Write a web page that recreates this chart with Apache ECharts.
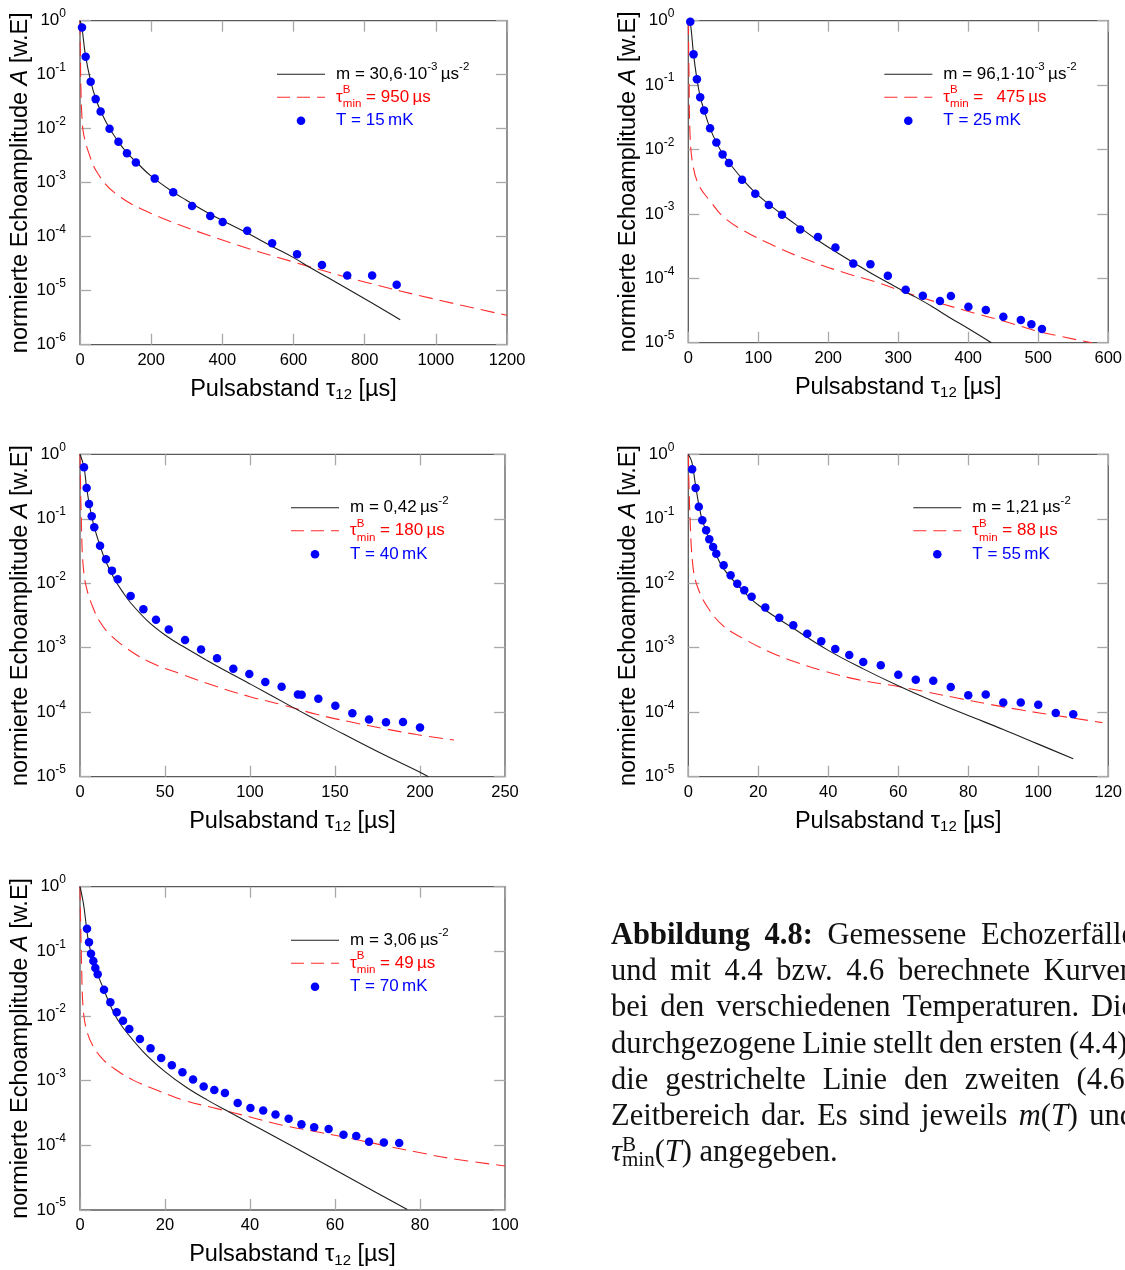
<!DOCTYPE html>
<html lang="de">
<head>
<meta charset="utf-8">
<title>Echozerfälle</title>
<script src="https://cdn.jsdelivr.net/npm/echarts@6.0.0/dist/echarts.min.js"></script>
<style>
  html, body { margin: 0; padding: 0; background: #fff; }
  #chart { width: 1125px; height: 1270px; }
</style>
</head>
<body>
<div id="chart"></div>
<script>
// ---------- T = 15 mK ----------
const tau15 = [5.6, 15.9, 30, 44, 58, 83, 108, 132, 157, 210, 262, 315, 366, 401, 470, 540, 610, 680, 751, 821, 890];
const amp15 = [0.75, 0.215, 0.074, 0.0353, 0.0208, 0.00995, 0.00571, 0.00352, 0.00236, 0.00119, 6.65e-4, 3.72e-4, 2.42e-4, 1.87e-4, 1.29e-4, 7.55e-5, 4.72e-5, 2.99e-5, 1.92e-5, 1.92e-5, 1.29e-5];
const fitTau15 = [0, 5, 15, 30, 45, 60, 80, 100, 130, 160, 200, 260, 300, 350, 400, 470, 540, 600, 650, 700, 800, 900];
const fitAmp15 = [1, 0.78, 0.235, 0.076, 0.0347, 0.02, 0.011, 0.0068, 0.0037, 0.00234, 0.00132, 6.8e-4, 4.7e-4, 3.0e-4, 2.0e-4, 1.17e-4, 6.6e-5, 4.1e-5, 2.6e-5, 1.7e-5, 7.1e-6, 2.9e-6];
const dashTau15 = [0, 1, 2.5, 5, 10, 25, 50, 100, 200, 400, 600, 800, 1000, 1200];
const dashAmp15 = [1, 0.3, 0.06, 0.019, 0.0081, 0.0035, 0.00148, 6.3e-4, 2.7e-4, 8.7e-5, 3.4e-5, 1.45e-5, 6.9e-6, 3.5e-6];

// ---------- T = 25 mK ----------
const tau25 = [2.8, 7.5, 12.3, 17, 22.6, 31.1, 40.1, 49, 58, 76.8, 95.7, 115, 133.9, 159.8, 185.2, 210.2, 235.7, 260.2, 285.1, 310.6, 335.1, 359.6, 375.2, 400.2, 425.1, 450.1, 475.1, 490.2, 505.3];
const amp25 = [0.96, 0.30, 0.123, 0.065, 0.0405, 0.0213, 0.0128, 0.0084, 0.00616, 0.0034, 0.00206, 0.00137, 9.7e-4, 5.75e-4, 4.37e-4, 3.02e-4, 1.69e-4, 1.66e-4, 1.10e-4, 6.65e-5, 5.37e-5, 4.44e-5, 5.31e-5, 3.62e-5, 3.21e-5, 2.53e-5, 2.25e-5, 1.93e-5, 1.63e-5];
const fitTau25 = [0, 2.8, 7.5, 12.3, 17, 23, 31, 40, 50, 60, 77, 96, 115, 134, 160, 185, 210, 236, 260, 285, 310, 325, 350, 375, 400, 433];
const fitAmp25 = [1, 0.93, 0.30, 0.125, 0.066, 0.039, 0.0215, 0.0129, 0.0083, 0.0059, 0.0035, 0.00212, 0.00142, 9.8e-4, 6.1e-4, 3.9e-4, 2.6e-4, 1.75e-4, 1.22e-4, 8.6e-5, 6.1e-5, 5.1e-5, 3.55e-5, 2.4e-5, 1.66e-5, 1.0e-5];
const dashTau25 = [0, 1, 2.4, 7, 16.5, 30.6, 49.5, 77.8, 125, 172, 219, 266, 313, 360, 408, 455, 502, 577];
const dashAmp25 = [1, 0.15, 0.018, 0.0054, 0.0026, 0.00162, 9.1e-4, 5.6e-4, 3.1e-4, 1.9e-4, 1.26e-4, 8.9e-5, 5.9e-5, 4.1e-5, 2.9e-5, 2.1e-5, 1.48e-5, 1.0e-5];

// ---------- T = 40 mK ----------
const tau40 = [2.35, 3.9, 5.3, 6.9, 8.4, 11.8, 15.3, 18.8, 22.2, 29.8, 37.3, 44.7, 52.2, 61.8, 71.2, 80.6, 90.2, 99.6, 109, 118.6, 128.2, 130.4, 140.2, 150.2, 160.2, 170, 180, 190, 200];
const amp40 = [0.63, 0.30, 0.17, 0.109, 0.0738, 0.0383, 0.0235, 0.0157, 0.0115, 0.00634, 0.00394, 0.00272, 0.00191, 0.00132, 9.4e-4, 6.85e-4, 4.73e-4, 3.91e-4, 2.94e-4, 2.49e-4, 1.89e-4, 1.87e-4, 1.62e-4, 1.26e-4, 9.6e-5, 7.7e-5, 6.96e-5, 7.05e-5, 5.8e-5];
const fitTau40 = [0, 2.35, 3.9, 6, 8.4, 11.8, 15, 20, 25, 30, 40, 50, 60, 75, 90, 100, 125, 150, 175, 200, 205];
const fitAmp40 = [1, 0.63, 0.30, 0.141, 0.0741, 0.038, 0.0224, 0.012, 0.00741, 0.0049, 0.00257, 0.00158, 0.00107, 6.3e-4, 3.8e-4, 2.75e-4, 1.2e-4, 5.37e-5, 2.45e-5, 1.17e-5, 1.0e-5];
const dashTau40 = [0, 1, 2, 3.9, 7.8, 11.8, 17.6, 27.5, 41, 60.8, 80.4, 100, 119.6, 139, 158.8, 178.4, 198, 220];
const dashAmp40 = [1, 0.056, 0.017, 0.0083, 0.0041, 0.0025, 0.0016, 9.8e-4, 6.0e-4, 3.8e-4, 2.5e-4, 1.74e-4, 1.29e-4, 9.3e-5, 7.1e-5, 5.6e-5, 4.5e-5, 3.7e-5];

// ---------- T = 55 mK ----------
const tau55 = [1.1, 2.1, 3, 4, 5.1, 6, 7.1, 8, 10.1, 12.1, 14, 16, 18.1, 22, 26, 30, 34, 38, 42, 46, 50, 55, 60, 65, 70, 75, 80, 85, 90, 95, 100, 105, 110];
const amp55 = [0.585, 0.30, 0.154, 0.0946, 0.0662, 0.0481, 0.0365, 0.0288, 0.019, 0.0133, 0.00986, 0.00777, 0.0062, 0.00419, 0.00293, 0.00223, 0.00165, 0.00126, 9.55e-4, 7.7e-4, 6.0e-4, 5.33e-4, 3.82e-4, 3.2e-4, 3.08e-4, 2.46e-4, 1.83e-4, 1.89e-4, 1.41e-4, 1.41e-4, 1.31e-4, 9.7e-5, 9.3e-5];
const fitTau55 = [0, 1, 2, 3, 4, 6, 8, 10, 15, 20, 30, 40, 50, 60, 70, 80, 90, 100, 110];
const fitAmp55 = [1, 0.76, 0.35, 0.166, 0.095, 0.047, 0.0275, 0.017, 0.0083, 0.0046, 0.002, 9.1e-4, 4.7e-4, 2.57e-4, 1.48e-4, 8.9e-5, 5.4e-5, 3.2e-5, 1.9e-5];
const dashTau55 = [0, 0.5, 1.4, 2.8, 5.7, 9.9, 15.6, 23.1, 30.6, 39.1, 48.5, 60, 67.4, 76.8, 86.3, 95.7, 105.1, 118.3];
const dashAmp55 = [1, 0.1, 0.017, 0.0083, 0.0041, 0.0022, 0.0014, 8.7e-4, 6.0e-4, 4.3e-4, 3.2e-4, 2.5e-4, 2.1e-4, 1.66e-4, 1.32e-4, 1.07e-4, 8.9e-5, 6.9e-5];

// ---------- T = 70 mK ----------
const tau70 = [1.65, 2.12, 2.59, 3.14, 3.61, 4.16, 5.65, 7.14, 8.63, 10.12, 11.6, 14.1, 16.6, 19.1, 21.6, 24.1, 26.6, 29.1, 31.6, 34.1, 37.1, 40.1, 43.1, 46, 49.1, 52.1, 55.1, 58.5, 62, 65, 68, 71.5, 75.1];
const amp70 = [0.224, 0.138, 0.092, 0.071, 0.0552, 0.0441, 0.0255, 0.0163, 0.0114, 0.00847, 0.0063, 0.0044, 0.00316, 0.00224, 0.00173, 0.00135, 0.00104, 8.1e-4, 7.2e-4, 6.45e-4, 4.52e-4, 3.78e-4, 3.47e-4, 3.01e-4, 2.58e-4, 2.11e-4, 1.9e-4, 1.79e-4, 1.46e-4, 1.39e-4, 1.14e-4, 1.11e-4, 1.09e-4];
const fitTau70 = [0, 0.8, 1.33, 1.8, 2.5, 3.5, 5, 8, 10, 15, 20, 25, 30, 35, 40, 50, 60, 70, 77];
const fitAmp70 = [1, 0.55, 0.30, 0.17, 0.1, 0.057, 0.032, 0.011, 0.00676, 0.00275, 0.00138, 7.9e-4, 5.0e-4, 3.3e-4, 2.2e-4, 9.7e-5, 4.2e-5, 1.82e-5, 1.02e-5];
const dashTau70 = [0, 0.4, 0.78, 1.57, 3.1, 5.5, 8.6, 12.5, 18, 24.3, 32.2, 40, 47.8, 55.7, 63.5, 71.4, 79.2, 87, 100];
const dashAmp70 = [1, 0.051, 0.0123, 0.006, 0.0034, 0.0021, 0.00145, 0.00102, 7.2e-4, 5.0e-4, 3.7e-4, 2.75e-4, 2.04e-4, 1.62e-4, 1.29e-4, 1.0e-4, 7.9e-5, 6.3e-5, 4.8e-5];

// Legend labels and axis ranges per panel
const tempLabels = ['15', '25', '40', '55', '70'];
const mLabels = ['30,6·10', '96,1·10', '0,42', '1,21', '3,06'];
const mExponents = ['-3', '-3', '', '', ''];
const tauMinLabels = ['950', '\u2002475', '180', '88', '49'];
const xMaxima = [1200, 600, 250, 120, 100];
const xSteps = [200, 100, 50, 20, 20];
const yMinExponents = [-6, -5, -5, -5, -5];

// Caption lines
const captionLines = [
  '{b|Abbildung} {b|4.8:} Gemessene Echozerfälle',
  'und mit 4.4 bzw. 4.6 berechnete Kurven',
  'bei den verschiedenen Temperaturen. Die',
  'durchgezogene Linie stellt den ersten (4.4),',
  'die gestrichelte Linie den zweiten (4.6)',
  'Zeitbereich dar. Es sind jeweils {i|m}{r|(}{i|T}{r|)} und',
  '{i|τ}{bz|B}{sub|min}{r|(}{i|T}{r|)} angegeben.'
];

const measurements = [[tau15, amp15], [tau25, amp25], [tau40, amp40], [tau55, amp55], [tau70, amp70]];
const firstRange = [[fitTau15, fitAmp15], [fitTau25, fitAmp25], [fitTau40, fitAmp40], [fitTau55, fitAmp55], [fitTau70, fitAmp70]];
const secondRange = [[dashTau15, dashAmp15], [dashTau25, dashAmp25], [dashTau40, dashAmp40], [dashTau55, dashAmp55], [dashTau70, dashAmp70]];

// ---------- layout ----------
const SANS = 'Liberation Sans';
const SERIF = 'Liberation Serif';
const gridRects = [
  [80, 20.7, 427, 324],
  [688.3, 20.7, 424.4, 322],
  [80, 454.3, 425, 322.4],
  [688.3, 454.3, 424.4, 322.4],
  [80, 886.7, 425, 323.3]
];
const legendOffsetX = [197, 196, 211, 225, 211];
const FRAME = '#5a5a5a';
const TICK = '#a9a9a9';

const pairs = (xs, ys) => xs.map((x, k) => [x, ys[k]]);

const grids = [], xAxes = [], yAxes = [], series = [], graphics = [];

gridRects.forEach((r, i) => {
  grids.push({ left: r[0], top: r[1], width: r[2], height: r[3], show: true,
    borderColor: FRAME, borderWidth: 1.3, backgroundColor: 'transparent', containLabel: false });

  const tick = { show: true, inside: true, length: 11, lineStyle: { color: TICK, width: 1.3 } };
  const yMin = Math.pow(10, yMinExponents[i]);

  xAxes.push({
    gridIndex: i, type: 'value', position: 'bottom', min: 0, max: xMaxima[i], interval: xSteps[i],
    axisLine: { show: false, onZero: false }, axisTick: tick, splitLine: { show: false },
    axisLabel: { fontFamily: SANS, fontSize: 16.5, color: '#000', margin: 7, formatter: v => String(v) },
    name: '{t|Pulsabstand τ}{s|12}{t| [µs]}', nameLocation: 'middle', nameGap: 32,
    nameTextStyle: { rich: {
      t: { fontFamily: SANS, fontSize: 23.5, color: '#000', lineHeight: 26 },
      s: { fontFamily: SANS, fontSize: 15, color: '#000', lineHeight: 12, verticalAlign: 'bottom' }
    } }
  });
  xAxes.push({
    gridIndex: i, type: 'value', position: 'top', min: 0, max: xMaxima[i], interval: xSteps[i],
    axisLine: { show: false, onZero: false }, axisTick: tick, axisLabel: { show: false }, splitLine: { show: false }
  });
  yAxes.push({
    gridIndex: i, type: 'log', logBase: 10, position: 'left', min: yMin, max: 1, splitNumber: -yMinExponents[i],
    axisLine: { show: false, onZero: false }, axisTick: tick, splitLine: { show: false },
    axisLabel: {
      margin: 14,
      formatter: v => '{b|10}{e|' + Math.round(Math.log10(v)) + '}',
      rich: {
        b: { fontFamily: SANS, fontSize: 17, color: '#000', lineHeight: 26 },
        e: { fontFamily: SANS, fontSize: 12, color: '#000', lineHeight: 12, verticalAlign: 'top' }
      }
    },
    name: '{t|normierte Echoamplitude }{i|A}{t| [w.E]}', nameLocation: 'middle', nameGap: 46,
    nameTextStyle: { rich: {
      t: { fontFamily: SANS, fontSize: 23.5, color: '#000', lineHeight: 24 },
      i: { fontFamily: SANS, fontSize: 23.5, color: '#000', lineHeight: 24, fontStyle: 'italic' }
    } }
  });
  yAxes.push({
    gridIndex: i, type: 'log', logBase: 10, position: 'right', min: yMin, max: 1, splitNumber: -yMinExponents[i],
    axisLine: { show: false, onZero: false }, axisTick: tick, axisLabel: { show: false }, splitLine: { show: false }
  });

  const xi = 2 * i, yi = 2 * i;
  series.push({
    type: 'line', xAxisIndex: xi, yAxisIndex: yi, data: pairs(secondRange[i][0], secondRange[i][1]),
    showSymbol: false, smooth: 0.4, silent: true, z: 2,
    lineStyle: { color: '#ff2b2b', width: 1.1, type: [14, 7] }
  });
  series.push({
    type: 'line', xAxisIndex: xi, yAxisIndex: yi, data: pairs(firstRange[i][0], firstRange[i][1]),
    showSymbol: false, smooth: 0.4, silent: true, z: 3,
    lineStyle: { color: '#1e1e1e', width: 1.1 }
  });
  series.push({
    type: 'scatter', xAxisIndex: xi, yAxisIndex: yi, data: pairs(measurements[i][0], measurements[i][1]),
    symbol: 'circle', symbolSize: 8.5, silent: true, z: 4,
    itemStyle: { color: '#0000ff', opacity: 1 }
  });

  // legend block
  const lx = r[0] + legendOffsetX[i];
  const rows = [r[1] + 53.5, r[1] + 76.5, r[1] + 100];
  const tx = lx + 59;
  const legendRich = (col) => ({
    t: { fontFamily: SANS, fontSize: 17, fill: col, lineHeight: 26 },
    sup: { fontFamily: SANS, fontSize: 11.5, fill: col, lineHeight: 12, verticalAlign: 'top' },
    bz: { fontFamily: SANS, fontSize: 11.5, fill: col, lineHeight: 12, verticalAlign: 'top', width: 0.1 },
    sub: { fontFamily: SANS, fontSize: 11.5, fill: col, lineHeight: 12, verticalAlign: 'bottom' }
  });
  graphics.push({ type: 'line', silent: true, shape: { x1: lx, y1: rows[0], x2: lx + 48, y2: rows[0] },
    style: { stroke: '#1e1e1e', lineWidth: 1.1 } });
  graphics.push({ type: 'line', silent: true, shape: { x1: lx, y1: rows[1], x2: lx + 48, y2: rows[1] },
    style: { stroke: '#ff2b2b', lineWidth: 1.1, lineDash: [13, 7] } });
  graphics.push({ type: 'circle', silent: true, shape: { cx: lx + 24, cy: rows[2], r: 4.3 },
    style: { fill: '#0000ff' } });
  const mText = '{t|m = ' + mLabels[i] + '}' + (mExponents[i] ? '{sup|' + mExponents[i] + '}' : '') + '{t|\u2009µs}{sup|-2}';
  const tauText = '{t|τ}{bz|B}{sub|min}{t| = ' + tauMinLabels[i] + '\u2009µs}';
  const tText = '{t|T = ' + tempLabels[i] + '\u2009mK}';
  [[mText, '#000'], [tauText, '#ff0000'], [tText, '#0000ff']].forEach(([txt, col], k) => {
    graphics.push({ type: 'text', silent: true, x: tx, y: rows[k],
      style: { text: txt, rich: legendRich(col), align: 'left', verticalAlign: 'middle',
               fontFamily: SANS, fontSize: 17, fill: col } });
  });
});

// ---------- caption (justified) ----------
const CAP_FS = 30.5;
const capRich = {
  r: { fontFamily: SERIF, fontSize: CAP_FS, lineHeight: 36, fill: '#111' },
  b: { fontFamily: SERIF, fontSize: CAP_FS, lineHeight: 36, fill: '#111', fontWeight: 'bold' },
  i: { fontFamily: SERIF, fontSize: CAP_FS, lineHeight: 36, fill: '#111', fontStyle: 'italic' },
  bz: { fontFamily: SERIF, fontSize: 21, lineHeight: 14, fill: '#111', verticalAlign: 'top', width: 0.1 },
  sub: { fontFamily: SERIF, fontSize: 21, lineHeight: 14, fill: '#111', verticalAlign: 'bottom' }
};
const measureCtx = document.createElement('canvas').getContext('2d');
const fontOf = st => (st.fontStyle || 'normal') + ' ' + (st.fontWeight || 'normal') + ' ' + st.fontSize + 'px ' + st.fontFamily;
function richWidth(markup) {
  let w = 0;
  markup.replace(/\{(\w+)\|([^}]*)\}/g, (m, key, txt) => {
    const st = capRich[key];
    if (st.width != null) { w += st.width; }
    else { measureCtx.font = fontOf(st); w += measureCtx.measureText(txt).width; }
    return m;
  });
  return w;
}
const CAP_X = 611, CAP_W = 524, CAP_MID = 936, CAP_STEP = 36.2;
measureCtx.font = fontOf(capRich.r);
const spaceW = measureCtx.measureText(' ').width;
captionLines.forEach((line, li) => {
  const words = line.split(' ').map(w => w.indexOf('{') === 0 ? w : '{r|' + w + '}');
  const widths = words.map(richWidth);
  const total = widths.reduce((a, b) => a + b, 0);
  const last = li === captionLines.length - 1;
  const gap = last ? spaceW : (CAP_W - total) / (words.length - 1);
  let x = CAP_X;
  const y = CAP_MID + li * CAP_STEP;
  words.forEach((w, k) => {
    graphics.push({ type: 'text', silent: true, x: x, y: y,
      style: { text: w, rich: capRich, align: 'left', verticalAlign: 'middle',
               fontFamily: SERIF, fontSize: CAP_FS, fill: '#111' } });
    x += widths[k] + gap;
  });
});

const chart = echarts.init(document.getElementById('chart'), null, { renderer: 'canvas' });
chart.setOption({
  animation: false,
  backgroundColor: '#ffffff',
  textStyle: { fontFamily: SANS },
  grid: grids,
  xAxis: xAxes,
  yAxis: yAxes,
  series: series,
  graphic: graphics
});
</script>
</body>
</html>
